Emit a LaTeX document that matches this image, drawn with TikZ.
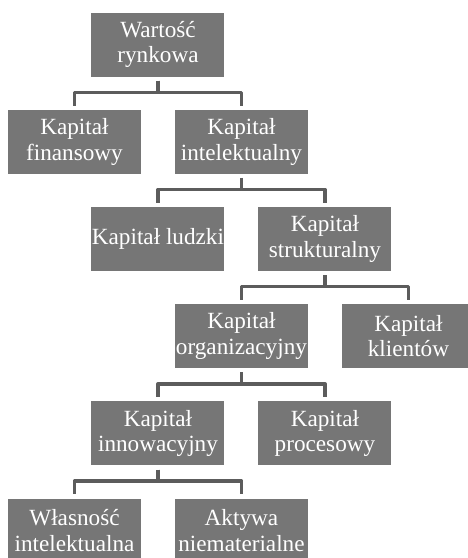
\documentclass[tikz,border=0pt]{standalone}
\usepackage{fontspec}
\setmainfont{Liberation Serif}
\newfontfamily\boxfont{Liberation Serif}

\definecolor{boxgray}{RGB}{118,118,118}
\definecolor{linkgray}{RGB}{92,92,92}

\begin{document}
\begin{tikzpicture}[
    x=83.5pt,
    y=97.2pt,
    cell/.style={
        fill=boxgray,
        text=white,
        minimum width=133pt,
        minimum height=64pt,
        inner sep=0pt,
        align=center,
        font=\boxfont\fontsize{23.2}{25.5}\selectfont
    },
    link/.style={
        draw=linkgray,
        line width=3.5pt,
        line join=round,
        shorten <=4pt,
        shorten >=4pt
    }
]
\useasboundingbox (-0.892,0.458) rectangle (4.713,-5.283);

% =====================
% Poziom 0
% =====================
\node[cell] (wartosc) at (1,0) {Wartość\\rynkowa};

% =====================
% Poziom 1
% =====================
\node[cell] (finansowy)     at (0,-1) {Kapitał\\finansowy};
\node[cell] (intelektualny) at (2,-1) {Kapitał\\intelektualny};

% =====================
% Poziom 2
% =====================
\node[cell] (ludzki)       at (1,-2) {Kapitał ludzki};
\node[cell] (strukturalny) at (3,-2) {Kapitał\\strukturalny};

% =====================
% Poziom 3
% =====================
\node[cell] (organizacyjny) at (2,-3) {Kapitał\\organizacyjny};
\node[cell] (klientow)      at (4,-3) {Kapitał\\klientów};

% =====================
% Poziom 4
% =====================
\node[cell] (innowacyjny) at (1,-4) {Kapitał\\innowacyjny};
\node[cell] (procesowy)   at (3,-4) {Kapitał\\procesowy};

% =====================
% Poziom 5
% =====================
\node[cell] (wlasnosc) at (0,-5) {Własność\\intelektualna};
\node[cell] (aktywa)   at (2,-5) {Aktywa\\niematerialne};

% =====================
% Polaczenia
% =====================
\draw[link] (wartosc.south) -- ++(0,-0.16) -| (finansowy.north);
\draw[link] (wartosc.south) -- ++(0,-0.16) -| (intelektualny.north);

\draw[link] (intelektualny.south) -- ++(0,-0.16) -| (ludzki.north);
\draw[link] (intelektualny.south) -- ++(0,-0.16) -| (strukturalny.north);

\draw[link] (strukturalny.south) -- ++(0,-0.16) -| (organizacyjny.north);
\draw[link] (strukturalny.south) -- ++(0,-0.16) -| (klientow.north);

\draw[link] (organizacyjny.south) -- ++(0,-0.16) -| (innowacyjny.north);
\draw[link] (organizacyjny.south) -- ++(0,-0.16) -| (procesowy.north);

\draw[link] (innowacyjny.south) -- ++(0,-0.16) -| (wlasnosc.north);
\draw[link] (innowacyjny.south) -- ++(0,-0.16) -| (aktywa.north);

\end{tikzpicture}
\end{document}
